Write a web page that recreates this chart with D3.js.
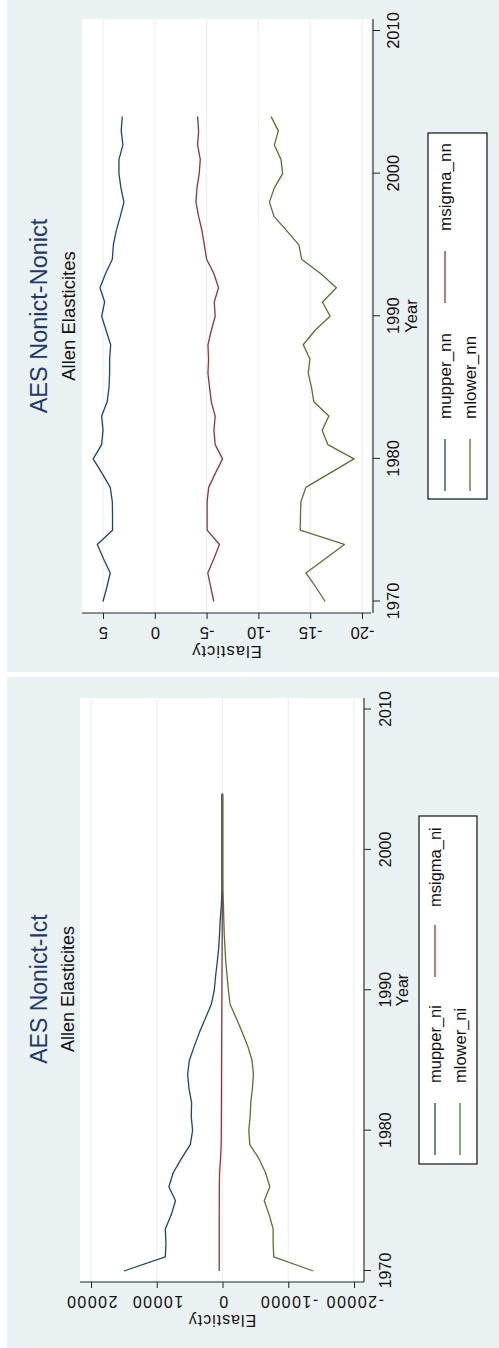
<!DOCTYPE html>
<html>
<head>
<meta charset="utf-8">
<script src="https://cdn.jsdelivr.net/npm/d3@7"></script>
<style>
  body { margin: 0; background: #ffffff; }
  text { font-family: "Liberation Sans", Arial, sans-serif; }
</style>
</head>
<body>
<div id="chart"></div>
<script>
// years on the x axis
var years = [1970, 1971, 1972, 1973, 1974, 1975, 1976, 1977, 1978, 1979,
  1980, 1981, 1982, 1983, 1984, 1985, 1986, 1987, 1988, 1989,
  1990, 1991, 1992, 1993, 1994, 1995, 1996, 1997, 1998, 1999,
  2000, 2001, 2002, 2003, 2004];
var yearTicks = [1970, 1980, 1990, 2000, 2010];

// AES Nonict-Nonict
var mupper_nn = [5.0, 4.63, 4.3, 4.95, 5.55, 4.08, 4.08, 4.1, 4.3, 5.1,
  5.95, 5.13, 5.0, 5.13, 4.6, 4.42, 4.36, 4.36, 4.26, 4.7,
  5.13, 4.84, 5.29, 4.75, 4.1, 4.0, 3.72, 3.33, 2.98, 3.27,
  3.46, 3.46, 3.08, 3.24, 3.14];
var msigma_nn = [-5.69, -5.4, -5.11, -5.7, -6.24, -5.05, -5.05, -5.05, -5.2, -5.85,
  -6.54, -5.83, -5.71, -5.83, -5.45, -5.29, -5.13, -5.19, -5.13, -5.45,
  -5.83, -5.74, -6.15, -5.7, -5.0, -4.78, -4.55, -4.23, -3.97, -4.07,
  -4.29, -4.39, -4.13, -4.23, -4.13];
var mlower_nn = [-16.45, -15.55, -14.58, -16.45, -18.3, -14.03, -14.06, -14.1, -14.58, -16.9,
  -19.23, -16.7, -16.15, -16.8, -15.35, -15.13, -14.81, -14.97, -14.33, -15.45,
  -16.92, -16.19, -17.53, -16.0, -14.17, -13.91, -12.72, -11.51, -11.06, -11.54,
  -12.34, -12.18, -11.54, -11.92, -11.22];
var nnTicks = [5, 0, -5, -10, -15, -20];

// AES Nonict-Ict
var mupper_ni = [15000, 8700, 8600, 8700, 7800, 7150, 8150, 7500, 6250, 4900,
  4550, 4750, 4700, 5100, 5300, 5050, 4300, 3500, 2600, 1700,
  1250, 1050, 800, 580, 450, 350, 180, 100, 100, 100,
  100, 100, 100, 100, 100];
var msigma_ni = [500, 500, 500, 500, 500, 490, 480, 450, 300, 200,
  180, 170, 160, 150, 150, 140, 130, 120, 110, 100,
  90, 80, 70, 60, 50, 40, 30, 10, 0, 0,
  0, 0, 0, 0, 0];
var mlower_ni = [-13800, -7800, -7700, -7700, -7100, -6350, -7200, -6550, -5550, -4150,
  -4000, -4200, -4300, -4550, -4700, -4500, -3850, -3000, -2100, -1150,
  -900, -700, -500, -380, -260, -200, -150, -80, -50, -50,
  -50, -50, -50, -50, -50];
var niTicks = [20000, 10000, 0, -10000, -20000];

var width = 499, height = 1348;
var bgColor = "#eaf2f3";
var navy = "#1a476f", maroon = "#90353b", green = "#55752f";

var svg = d3.select("#chart").append("svg")
  .attr("width", width)
  .attr("height", height);

// each panel is drawn as a normal stata graph (u across, v down) and then turned -90deg
var panels = [
  {
    offset: 674, title: "AES Nonict-Nonict",
    series: [mupper_nn, msigma_nn, mlower_nn],
    names: ["mupper_nn", "msigma_nn", "mlower_nn"],
    ticks: nnTicks, valDomain: [5, -20], valRange: [103, 362],
    yearRange: [72.5, 643],
    bg: [2, 674, 7, 499], plot: [61, 655, 82, 371],
    xAxisV: 373, xPad: 7, yearV: 417, elasU: 28, tickFs: 16.5, tickLs: 0,
    titleV: 47, subV: 75, titleFs: 23.5, subFs: 18.5, titleU: 358,
    legend: [175, 541, 428, 487], rows: [445, 470], cols: [[183, 235, 255], [371, 423, 443]],
    legFs: 17
  },
  {
    offset: 1348, title: "AES Nonict-Ict",
    series: [mupper_ni, msigma_ni, mlower_ni],
    names: ["mupper_ni", "msigma_ni", "mlower_ni"],
    ticks: niTicks, valDomain: [20000, -20000], valRange: [91, 354],
    yearRange: [77, 638.5],
    bg: [0, 671, 7, 499], plot: [66, 650, 80, 364],
    xAxisV: 364, xPad: 9, yearV: 408, elasU: 33, tickFs: 16, tickLs: 1.5,
    titleV: 47, subV: 74, titleFs: 23, subFs: 18, titleU: 359,
    legend: [184, 532, 419, 477], rows: [435, 460], cols: [[193, 245, 265], [371, 423, 441]],
    legFs: 16.5
  }
];

panels.forEach(function (p) {
  var g = svg.append("g")
    .attr("transform", "translate(0," + p.offset + ") rotate(-90)");

  g.append("rect")
    .attr("x", p.bg[0]).attr("y", p.bg[2])
    .attr("width", p.bg[1] - p.bg[0]).attr("height", p.bg[3] - p.bg[2])
    .attr("fill", bgColor);

  g.append("rect")
    .attr("x", p.plot[0]).attr("y", p.plot[2])
    .attr("width", p.plot[1] - p.plot[0]).attr("height", p.plot[3] - p.plot[2])
    .attr("fill", "#ffffff");

  var x = d3.scaleLinear().domain([1970, 2010]).range(p.yearRange);
  var y = d3.scaleLinear().domain(p.valDomain).range(p.valRange);

  // grid
  g.selectAll(".grid")
    .data(p.ticks)
    .enter().append("line")
    .attr("class", "grid")
    .attr("x1", p.plot[0]).attr("x2", p.plot[1])
    .attr("y1", function (d) { return y(d); })
    .attr("y2", function (d) { return y(d); })
    .attr("stroke", bgColor)
    .attr("stroke-width", 1.2);

  // year axis
  var xa = g.append("g")
    .attr("transform", "translate(0," + p.xAxisV + ")")
    .call(d3.axisBottom(x).tickValues(yearTicks).tickSize(7).tickPadding(p.xPad)
      .tickFormat(function (d) { return String(d); }));
  xa.select(".domain").remove();
  xa.selectAll("line").attr("stroke", "#222");
  xa.selectAll("text").attr("font-size", p.tickFs).attr("fill", "#111")
    .style("font-family", '"Liberation Sans", Arial, sans-serif');
  g.append("line")
    .attr("x1", p.plot[0]).attr("x2", p.plot[1])
    .attr("y1", p.xAxisV).attr("y2", p.xAxisV)
    .attr("stroke", "#222").attr("stroke-width", 1.1);

  g.append("text")
    .attr("x", (p.plot[0] + p.plot[1]) / 2)
    .attr("y", p.yearV)
    .attr("text-anchor", "middle")
    .attr("font-size", p.tickFs)
    .attr("fill", "#111")
    .text("Year");

  // elasticity axis
  var ya = g.append("g")
    .attr("transform", "translate(" + p.plot[0] + ",0)")
    .call(d3.axisLeft(y).tickValues(p.ticks).tickSize(6)
      .tickFormat(function (d) { return String(d); }));
  ya.select(".domain").remove();
  ya.selectAll("line").attr("stroke", "#222");
  ya.selectAll("text")
    .attr("x", 0).attr("dy", 0)
    .attr("text-anchor", "middle")
    .attr("transform", "translate(-14,0) rotate(-90)")
    .attr("font-size", p.tickFs)
    .attr("letter-spacing", p.tickLs)
    .attr("fill", "#111")
    .style("font-family", '"Liberation Sans", Arial, sans-serif');
  g.append("line")
    .attr("x1", p.plot[0]).attr("x2", p.plot[0])
    .attr("y1", p.plot[2]).attr("y2", p.plot[3])
    .attr("stroke", "#222").attr("stroke-width", 1.1);

  g.append("text")
    .attr("transform", "translate(" + p.elasU + "," + ((p.plot[2] + p.plot[3]) / 2) + ") rotate(-90)")
    .attr("text-anchor", "middle")
    .attr("font-size", p.tickFs)
    .attr("letter-spacing", 1)
    .attr("fill", "#111")
    .text("Elasticty");

  // the three series
  var colors = [navy, maroon, green];
  var line = d3.line()
    .x(function (d, i) { return x(years[i]); })
    .y(function (d) { return y(d); });

  p.series.forEach(function (s, k) {
    g.append("path")
      .datum(s)
      .attr("d", line)
      .attr("fill", "none")
      .attr("stroke", colors[k])
      .attr("stroke-width", 1.3)
      .attr("stroke-linejoin", "round");
  });

  // titles
  g.append("text")
    .attr("x", p.titleU).attr("y", p.titleV)
    .attr("text-anchor", "middle")
    .attr("font-size", p.titleFs)
    .attr("fill", "#213a6b")
    .text(p.title);
  g.append("text")
    .attr("x", p.titleU).attr("y", p.subV)
    .attr("text-anchor", "middle")
    .attr("font-size", p.subFs)
    .attr("fill", "#111")
    .text("Allen Elasticites");

  // legend
  g.append("rect")
    .attr("x", p.legend[0]).attr("y", p.legend[2])
    .attr("width", p.legend[1] - p.legend[0]).attr("height", p.legend[3] - p.legend[2])
    .attr("fill", "#ffffff")
    .attr("stroke", "#111")
    .attr("stroke-width", 1.2);

  var slots = [[0, 0], [0, 1], [1, 0]]; // [row, col]
  p.names.forEach(function (name, k) {
    var r = slots[k][0], c = slots[k][1];
    var cx = p.cols[c];
    var ly = p.rows[r];
    g.append("line")
      .attr("x1", cx[0]).attr("x2", cx[1])
      .attr("y1", ly).attr("y2", ly)
      .attr("stroke", colors[k]).attr("stroke-width", 1.3);
    g.append("text")
      .attr("x", cx[2]).attr("y", ly + 6)
      .attr("font-size", p.legFs)
      .attr("fill", "#111")
      .text(name);
  });
});
</script>
</body>
</html>
